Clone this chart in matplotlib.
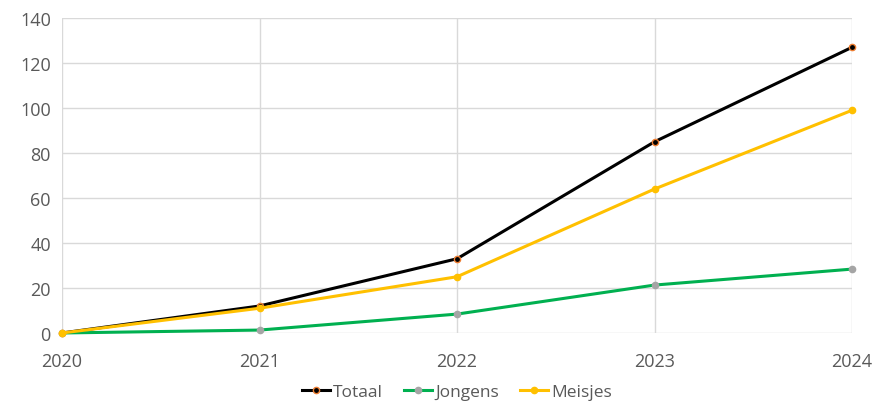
import matplotlib.pyplot as plt

jaren = [2020, 2021, 2022, 2023, 2024]
totaal = [0, 12, 33, 85, 127]
jongens = [0, 1.3, 8.4, 21.3, 28.4]
meisjes = [0, 11, 25, 64, 99]

plt.rcParams['font.family'] = ['Open Sans', 'DejaVu Sans']
grijs = '#595959'

fig = plt.figure(figsize=(8.74, 4.10), dpi=100)
ax = fig.add_axes([0.0709, 0.1854, 0.9041, 0.7683])

ax.plot(jaren, totaal, color='black', lw=2.2, marker='o', ms=4.5,
        mfc='black', mec='#ed7d31', mew=1, label='Totaal', zorder=3, clip_on=False)
ax.plot(jaren, jongens, color='#00b050', lw=2.2, marker='o', ms=4.5,
        mfc='#a5a5a5', mec='#a5a5a5', label='Jongens', zorder=3, clip_on=False)
ax.plot(jaren, meisjes, color='#ffc000', lw=2.2, marker='o', ms=4.5,
        mfc='#ffc000', mec='#ffc000', label='Meisjes', zorder=3, clip_on=False)

ax.set_xlim(2020, 2024)
ax.set_ylim(0, 140)
ax.set_xticks(jaren)
ax.set_yticks(range(0, 141, 20))
ax.grid(True, color='#d9d9d9', lw=1)
ax.set_axisbelow(True)
for s in ax.spines.values():
    s.set_visible(False)
ax.tick_params(length=0, labelsize=13, colors=grijs, pad=8)
ax.tick_params(axis='x', pad=14)

ax.legend(loc='lower center', bbox_to_anchor=(0.5, -0.245), ncol=3, frameon=False,
          fontsize=12.5, labelcolor=grijs, handlelength=1.6, handletextpad=0.2,
          columnspacing=1.2, borderpad=0.1)

fig.savefig('out.png', dpi=100)
